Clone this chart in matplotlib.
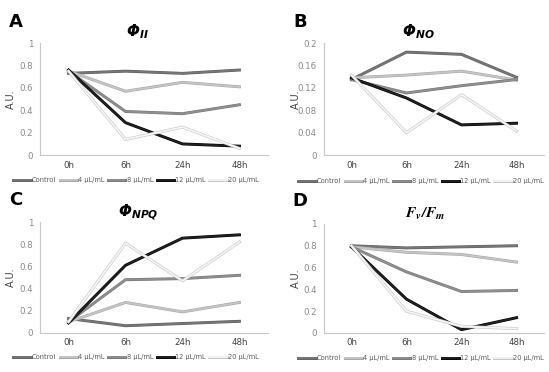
import matplotlib
matplotlib.use("Agg")
import matplotlib.pyplot as plt
import matplotlib.patheffects as pe

times = ["0h", "6h", "24h", "48h"]
series_names = ["Control", "4 µL/mL", "8 µL/mL", "12 µL/mL", "20 µL/mL"]

# panel A - PhiII
phi_ii = [
    [0.73, 0.75, 0.73, 0.76],
    [0.75, 0.57, 0.65, 0.61],
    [0.75, 0.39, 0.37, 0.45],
    [0.76, 0.29, 0.10, 0.08],
    [0.75, 0.14, 0.25, 0.06],
]
# panel B - PhiNO
phi_no = [
    [0.135, 0.184, 0.180, 0.139],
    [0.138, 0.143, 0.150, 0.134],
    [0.135, 0.111, 0.124, 0.135],
    [0.138, 0.102, 0.054, 0.057],
    [0.143, 0.040, 0.108, 0.043],
]
# panel C - PhiNPQ
phi_npq = [
    [0.13, 0.065, 0.085, 0.105],
    [0.10, 0.275, 0.19, 0.275],
    [0.10, 0.48, 0.49, 0.52],
    [0.09, 0.61, 0.855, 0.885],
    [0.10, 0.81, 0.47, 0.82],
]
# panel D - Fv/Fm
fv_fm = [
    [0.80, 0.78, 0.79, 0.80],
    [0.79, 0.74, 0.72, 0.65],
    [0.79, 0.56, 0.38, 0.39],
    [0.79, 0.31, 0.03, 0.14],
    [0.80, 0.20, 0.06, 0.04],
]

line_colors = ["#777777", "#c6c6c6", "#909090", "#222222", "#f6f6f6"]
edge_colors = ["#5e5e5e", "#a6a6a6", "#767676", "#000000", "#c4c4c4"]
tick_gray = "#8a8a8a"


def draw_panel(fig, rect, data, yticks, ylabels, letter, letter_xy, title, title_xy,
               title_font, legend_xy):
    ax = fig.add_axes(rect)
    x = list(range(len(times)))
    handles = []
    for vals, name, c, ec in zip(data, series_names, line_colors, edge_colors):
        h, = ax.plot(x, vals, color=c, lw=1.3, label=name,
                     path_effects=[pe.Stroke(linewidth=2.1, foreground=ec), pe.Normal()])
        handles.append(h)
    ax.set_xlim(-0.5, 3.5)
    ax.set_ylim(yticks[0], yticks[-1])
    ax.set_xticks(x)
    ax.set_xticklabels(times, fontsize=6.2, color="#404040")
    ax.set_yticks(yticks)
    ax.set_yticklabels(ylabels, fontsize=6.2, color=tick_gray)
    ax.tick_params(length=0, pad=5)
    ax.tick_params(axis="x", pad=4)
    for s in ["top", "right"]:
        ax.spines[s].set_visible(False)
    for s in ["left", "bottom"]:
        ax.spines[s].set_color("#c8c8c8")
        ax.spines[s].set_linewidth(0.8)
    ax.set_ylabel("A.U.", fontsize=7, color="#404040")
    ax.yaxis.set_label_coords(-0.105, 0.5)

    fig.text(letter_xy[0] / 549, 1 - letter_xy[1] / 372, letter, fontsize=13,
             fontweight="bold", ha="center", va="center")
    fig.text(title_xy[0] / 549, 1 - title_xy[1] / 372, title, fontsize=11,
             ha="center", va="center", math_fontfamily=title_font)

    leg = fig.legend(handles=handles, loc="center", ncol=5, fontsize=4.8,
                     bbox_to_anchor=(legend_xy[0] / 549, 1 - legend_xy[1] / 372),
                     frameon=False, handlelength=2.6, handletextpad=0.2,
                     columnspacing=0.5, borderaxespad=0)
    for t in leg.get_texts():
        t.set_color("#595959")
    return ax


fig = plt.figure(figsize=(5.49, 3.72), dpi=100)

y_unit = [0, 0.2, 0.4, 0.6, 0.8, 1]
y_unit_lbl = ["0", "0.2", "0.4", "0.6", "0.8", "1"]
y_no = [0, 0.04, 0.08, 0.12, 0.16, 0.2]
y_no_lbl = ["0", "0.04", "0.08", "0.12", "0.16", "0.2"]

draw_panel(fig, [0.073, 0.583, 0.415, 0.301], phi_ii, y_unit, y_unit_lbl,
           "A", (16, 22), r"$\mathbfit{\Phi_{II}}$", (137, 32), "dejavusans", (136, 180))
draw_panel(fig, [0.590, 0.583, 0.401, 0.301], phi_no, y_no, y_no_lbl,
           "B", (300, 22), r"$\mathbfit{\Phi_{NO}}$", (418, 32), "dejavusans", (421, 181))
draw_panel(fig, [0.073, 0.105, 0.415, 0.298], phi_npq, y_unit, y_unit_lbl,
           "C", (16, 200), r"$\mathbfit{\Phi_{NPQ}}$", (138, 213), "dejavusans", (136, 357))
draw_panel(fig, [0.590, 0.105, 0.401, 0.293], fv_fm, y_unit, y_unit_lbl,
           "D", (300, 201), r"$\mathbfit{F_v/F_m}$", (425, 214), "stix", (421, 358))

fig.savefig("out.png", dpi=100)
